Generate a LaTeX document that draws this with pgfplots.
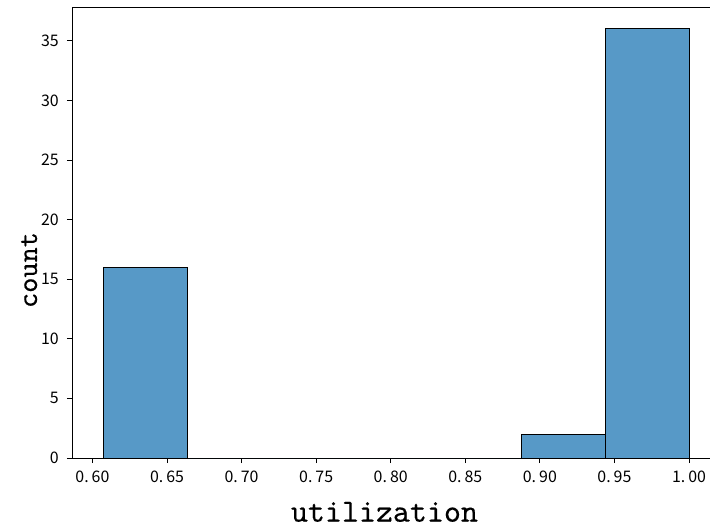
\documentclass[border=0pt]{standalone}
\usepackage{pgfplots}
\pgfplotsset{compat=1.18}
\usepackage{fontspec}
\newfontfamily\tickfont{Noto Sans CJK SC}
\newfontfamily\labfont[FakeBold=0.3]{lmmono10-regular.otf}
\definecolor{barblue}{RGB}{87,153,199}
\begin{document}
\begin{tikzpicture}
\begin{axis}[
  at={(0,0)}, anchor=south west,
  scale only axis, width=646.4bp, height=450.6bp,
  xmin=0.5863, xmax=1.0197, ymin=0, ymax=37.8,
  axis line style={black, line width=0.8bp},
  tick align=outside, major tick length=5bp,
  tick style={black, line width=0.8bp},
  xtick pos=bottom, ytick pos=left,
  xtick={0.60,0.65,0.70,0.75,0.80,0.85,0.90,0.95,1.00},
  xticklabels={0.\hspace{3bp}60,0.\hspace{3bp}65,0.\hspace{3bp}70,0.\hspace{3bp}75,0.\hspace{3bp}80,0.\hspace{3bp}85,0.\hspace{3bp}90,0.\hspace{3bp}95,1.\hspace{3bp}00},
  ytick={0,5,10,15,20,25,30,35},
  yticklabels={0,5,10,15,20,25,30,35},
  ticklabel style={font=\tickfont\fontsize{16}{16}\selectfont, inner sep=0pt},
  xticklabel style={yshift=-8bp},
  yticklabel style={xshift=-8bp},
  xlabel={\labfont\fontsize{32.5}{32.5}\selectfont utilization},
  ylabel={\labfont\fontsize{29}{29}\selectfont count},
  xlabel style={at={(rel axis cs:0.4834,0)}, anchor=base, yshift=-63.7bp, inner sep=0pt},
  ylabel style={at={(rel axis cs:-0.05415,0.4172)}, anchor=base, inner sep=0pt},
]
\addplot[ybar interval, fill=barblue, draw=black, line width=0.8bp]
  coordinates {(0.6074,16) (0.6635,0) (0.7196,0) (0.7757,0) (0.8318,0) (0.8878,2) (0.9439,36) (1.0000,36)};
\end{axis}
\pgfresetboundingbox
\useasboundingbox (-72bp,-70bp) rectangle (638bp,458bp);
\end{tikzpicture}
\end{document}
